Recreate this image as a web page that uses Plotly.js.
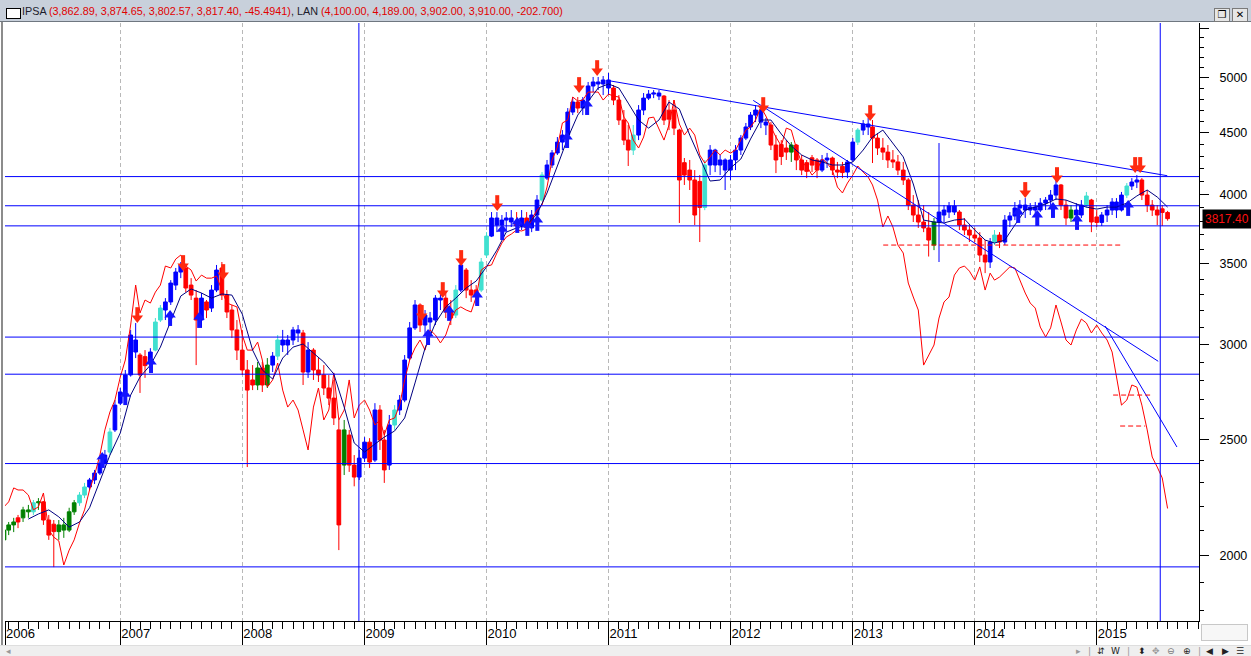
<!DOCTYPE html>
<html><head><meta charset="utf-8">
<script src="https://cdn.plot.ly/plotly-3.0.1.min.js"></script>
<style>
html,body{margin:0;padding:0;background:#fff;overflow:hidden;}
#wrap{position:relative;width:1251px;height:656px;overflow:hidden;}
#chart{position:absolute;left:0;top:0;width:1251px;height:656px;}
#hdr{position:absolute;left:0;top:0;width:1251px;height:21px;background:#c8d0db;border-bottom:1px solid #6f7780;font-family:'Liberation Sans',Arial,sans-serif;font-size:10.8px;line-height:22px;white-space:nowrap;z-index:5;}
#hdr .box{position:absolute;left:6px;top:8px;width:13px;height:9px;background:#fff;border:1px solid #000;}
#hdr .txt{position:absolute;left:22px;top:0;}
#hdr .nm{color:#1c1c2c;}
#hdr .vl{color:#e00000;}
.btn{position:absolute;top:8px;width:14px;height:12px;background:#e6e6e6;border:1px solid #7a7a7a;font:bold 10px 'DejaVu Sans',sans-serif;line-height:12px;text-align:center;color:#000;}
#frameL{position:absolute;left:1px;top:22px;width:2px;height:623px;background:#8c8c8c;z-index:5;}
#bot{position:absolute;left:0;top:645px;width:1251px;height:11px;background:#efefef;border-top:1px solid #dedede;z-index:5;font-family:'DejaVu Sans',sans-serif;font-size:9px;color:#222;}
#bot span{position:absolute;top:0px;line-height:11px;}
#rbox{position:absolute;left:1201px;top:624px;width:45px;height:15px;border:1px solid #c8c8c8;background:#f7f7f7;z-index:5;}
</style></head>
<body>
<div id="wrap">
<div id="chart"></div>
<div id="hdr"><div class="box"></div><div class="txt"><span class="nm">IPSA </span><span class="vl">(3,862.89, 3,874.65, 3,802.57, 3,817.40, -45.4941)</span><span class="nm">, LAN </span><span class="vl">(4,100.00, 4,189.00, 3,902.00, 3,910.00, -202.700)</span></div>
<div class="btn" style="left:1214px;">&#10064;</div><div class="btn" style="left:1232px;">&#10005;</div></div>
<div id="frameL"></div>
<div id="rbox"></div>
<div id="bot"><span style="left:6px;color:#999">&#9666;</span>
<span style="left:1076px;color:#999">&#9656;</span><span style="left:1088px;color:#999">|</span><span style="left:1097px">&#8693;</span><span style="left:1111px">W</span><span style="left:1127px;color:#999">|</span><span style="left:1138px">&#11021;</span><span style="left:1152px;color:#999">&#10021;</span><span style="left:1167px;color:#777">&#8854;</span><span style="left:1183px">&#8853;</span><span style="left:1198px;color:#999">|</span><span style="left:1206px">&#9664;</span><span style="left:1222px">&#9654;</span><span style="left:1236px">&#9776;</span></div>
</div>
<script>
// ---------- DATA ----------
const dates = [
'2006-01-18','2006-02-01','2006-02-16','2006-03-01','2006-03-16','2006-04-01','2006-04-16','2006-05-01','2006-05-16','2006-06-01','2006-06-16','2006-07-01','2006-07-16','2006-08-01','2006-08-16','2006-09-01','2006-09-16','2006-10-01','2006-10-16','2006-11-01','2006-11-16','2006-12-01','2006-12-16',
'2007-01-01','2007-01-16','2007-02-01','2007-02-16','2007-03-01','2007-03-16','2007-04-01','2007-04-16','2007-05-01','2007-05-16','2007-06-01','2007-06-16','2007-07-01','2007-07-16','2007-08-01','2007-08-16','2007-09-01','2007-09-16','2007-10-01','2007-10-16','2007-11-01','2007-11-16','2007-12-01','2007-12-16',
'2008-01-01','2008-01-16','2008-02-01','2008-02-16','2008-03-01','2008-03-16','2008-04-01','2008-04-16','2008-05-01','2008-05-16','2008-06-01','2008-06-16','2008-07-01','2008-07-16','2008-08-01','2008-08-16','2008-09-01','2008-09-16','2008-10-01','2008-10-16','2008-11-01','2008-11-16','2008-12-01','2008-12-16',
'2009-01-01','2009-01-16','2009-02-01','2009-02-16','2009-03-01','2009-03-16','2009-04-01','2009-04-16','2009-05-01','2009-05-16','2009-06-01','2009-06-16','2009-07-01','2009-07-16','2009-08-01','2009-08-16','2009-09-01','2009-09-16','2009-10-01','2009-10-16','2009-11-01','2009-11-16','2009-12-01','2009-12-16',
'2010-01-01','2010-01-16','2010-02-01','2010-02-16','2010-03-01','2010-03-16','2010-04-01','2010-04-16','2010-05-01','2010-05-16','2010-06-01','2010-06-16','2010-07-01','2010-07-16','2010-08-01','2010-08-16','2010-09-01','2010-09-16','2010-10-01','2010-10-16','2010-11-01','2010-11-16','2010-12-01','2010-12-16',
'2011-01-01','2011-01-16','2011-02-01','2011-02-16','2011-03-01','2011-03-16','2011-04-01','2011-04-16','2011-05-01','2011-05-16','2011-06-01','2011-06-16','2011-07-01','2011-07-16','2011-08-01','2011-08-16','2011-09-01','2011-09-16','2011-10-01','2011-10-16','2011-11-01','2011-11-16','2011-12-01','2011-12-16',
'2012-01-01','2012-01-16','2012-02-01','2012-02-16','2012-03-01','2012-03-16','2012-04-01','2012-04-16','2012-05-01','2012-05-16','2012-06-01','2012-06-16','2012-07-01','2012-07-16','2012-08-01','2012-08-16','2012-09-01','2012-09-16','2012-10-01','2012-10-16','2012-11-01','2012-11-16','2012-12-01','2012-12-16',
'2013-01-01','2013-01-16','2013-02-01','2013-02-16','2013-03-01','2013-03-16','2013-04-01','2013-04-16','2013-05-01','2013-05-16','2013-06-01','2013-06-16','2013-07-01','2013-07-16','2013-08-01','2013-08-16','2013-09-01','2013-09-16','2013-10-01','2013-10-16','2013-11-01','2013-11-16','2013-12-01','2013-12-16',
'2014-01-01','2014-01-16','2014-02-01','2014-02-16','2014-03-01','2014-03-16','2014-04-01','2014-04-16','2014-05-01','2014-05-16','2014-06-01','2014-06-16','2014-07-01','2014-07-16','2014-08-01','2014-08-16','2014-09-01','2014-09-16','2014-10-01','2014-10-16','2014-11-01','2014-11-16','2014-12-01','2014-12-16',
'2015-01-01','2015-01-16','2015-02-01','2015-02-16','2015-03-01','2015-03-16','2015-04-01','2015-04-16','2015-05-01','2015-05-16','2015-06-01','2015-06-16','2015-07-01','2015-07-16','2015-08-01'
];
const ipsaOpen = [
2062,2101,2122,2151,2151,2184,2176,2214,2218,2142,2125,2095,2122,2101,2176,2214,2247,2282,2313,2344,2389,2440,2546,
2680,2738,2829,3025,2939,2930,2900,2967,3143,3204,3254,3361,3446,3473,3361,3278,3143,3254,3216,3329,3473,3297,3204,3084,
2967,2856,2802,2775,2867,2775,2883,2933,3025,2996,3025,3084,3066,2845,2967,2856,2829,2759,2706,2546,2380,2521,2380,2326,
2412,2487,2403,2645,2497,2380,2570,2645,2696,2922,3096,3235,3113,3155,3143,3278,3278,3192,3173,3329,3459,3329,3330,3329,
3560,3692,3822,3771,3807,3822,3793,3764,3822,3750,3844,3956,4126,4231,4330,4421,4481,4683,4774,4719,4792,4923,4961,4942,
4980,4904,4792,4612,4438,4354,4481,4701,4810,4847,4857,4829,4700,4701,4524,4250,4190,4111,4100,3900,4231,4354,4231,4272,
4190,4272,4354,4455,4551,4656,4701,4594,4568,4396,4400,4371,4337,4396,4272,4250,4290,4272,4190,4272,4288,4190,4220,4174,
4272,4421,4524,4577,4551,4455,4371,4337,4272,4256,4190,4111,3918,3844,3793,3750,3629,3793,3844,3866,3911,3866,3771,3735,
3699,3678,3560,3513,3650,3699,3650,3807,3837,3896,3918,3881,3903,3881,3933,3956,3994,4072,3918,3822,3881,3844,3918,3956,
3830,3790,3844,3881,3941,3881,3994,4064,4095,4111,3994,3918,3881,3890,3862.89
];
const ipsaHigh = [
2114,2134,2151,2163,2197,2205,2226,2234,2222,2163,2142,2142,2151,2193,2226,2260,2300,2322,2358,2403,2450,2556,2696,
2759,2856,3084,3125,2950,2967,2978,3155,3235,3278,3393,3473,3513,3493,3406,3329,3310,3266,3361,3493,3513,3329,3235,3143,
3084,2911,2883,2900,2900,2922,2956,3054,3084,3054,3102,3113,3084,3013,2978,2922,2883,2829,2802,2595,2595,2546,2426,2450,
2511,2506,2680,2670,2546,2620,2670,2722,2939,3131,3266,3245,3204,3192,3297,3316,3316,3266,3361,3540,3473,3393,3361,3540,
3720,3866,3866,3844,3866,3881,3866,3881,3866,3881,3994,4174,4272,4354,4464,4524,4719,4820,4820,4820,4961,5009,5009,5018,
5047,4932,4838,4701,4568,4568,4746,4857,4885,4885,4885,4838,4792,4792,4535,4288,4272,4190,4150,4272,4396,4365,4313,4285,
4313,4396,4481,4586,4683,4746,4712,4630,4594,4481,4438,4438,4421,4405,4313,4272,4313,4288,4313,4330,4300,4256,4256,4272,
4455,4541,4612,4630,4612,4498,4455,4396,4354,4313,4256,4126,3994,3956,3918,3866,3822,4413,3918,3941,3956,3881,3822,3771,
3750,3720,3664,3678,3735,3720,3844,3866,3941,3956,3971,3933,3941,3971,3979,4033,4111,4080,3956,3918,3933,3956,4018,3965,
3881,3866,3918,3971,3971,4018,4087,4126,4150,4126,4033,3956,3918,3918,3874.65
];
const ipsaLow = [
2034,2081,2093,2109,2134,2151,2163,2184,2122,2062,1957,2062,2070,2093,2163,2201,2234,2269,2295,2335,2367,2426,2536,
2670,2730,2820,2922,2733,2813,2867,2960,3131,3143,3235,3329,3406,3316,3266,2883,3096,3155,3192,3316,3266,3155,3037,2911,
2829,2371,2748,2748,2738,2759,2845,2911,2956,2939,2996,3013,2775,2813,2802,2791,2722,2670,2570,2022,2335,2349,2285,2313,
2394,2367,2394,2450,2300,2358,2546,2620,2685,2911,3084,3072,3054,3054,3113,3204,3155,3113,3155,3316,3278,3254,3235,3316,
3540,3685,3720,3720,3735,3757,3720,3735,3699,3720,3822,3945,4111,4207,4313,4354,4470,4656,4674,4656,4780,4866,4885,4838,
4838,4746,4568,4396,4223,4313,4438,4656,4792,4810,4792,4568,4524,4481,3786,4072,4033,3771,3650,3880,4150,4174,4150,4033,
4111,4190,4313,4438,4524,4594,4541,4481,4354,4166,4231,4272,4256,4190,4150,4126,4174,4126,4174,4207,4150,4126,4126,4126,
4256,4396,4481,4481,4247,4313,4272,4207,4207,4150,4072,3881,3793,3750,3720,3550,3594,3513,3793,3822,3844,3735,3699,3650,
3650,3513,3439,3473,3629,3608,3629,3757,3807,3844,3822,3844,3844,3866,3881,3918,3956,3881,3771,3793,3793,3822,3896,3720,
3757,3764,3793,3844,3822,3870,3971,4033,4048,3956,3866,3837,3771,3764,3802.57
];
const ipsaClose = [
2101,2122,2134,2134,2184,2176,2214,2218,2142,2081,2095,2122,2101,2176,2214,2247,2282,2313,2344,2389,2426,2536,2670,
2738,2829,3054,2956,2829,2880,2956,3131,3216,3254,3374,3446,3493,3342,3297,3143,3278,3204,3329,3459,3297,3192,3084,2967,
2856,2748,2775,2867,2775,2883,2933,3025,2996,3025,3084,3066,2845,2967,2856,2829,2759,2706,2605,2122,2546,2380,2326,2412,
2487,2394,2645,2497,2358,2570,2645,2696,2911,3096,3235,3113,3173,3131,3278,3266,3192,3155,3329,3493,3329,3297,3290,3513,
3692,3822,3771,3807,3822,3793,3764,3822,3750,3844,3956,4150,4231,4330,4421,4481,4683,4774,4719,4792,4923,4961,4942,4980,
4904,4792,4612,4438,4354,4481,4701,4810,4847,4857,4829,4612,4620,4541,4111,4150,4111,3844,3900,4231,4354,4231,4272,4190,
4272,4354,4455,4551,4656,4701,4594,4568,4396,4272,4300,4337,4396,4272,4190,4180,4230,4190,4272,4288,4190,4174,4170,4256,
4421,4524,4577,4551,4455,4371,4337,4272,4256,4190,4111,3918,3844,3793,3750,3664,3793,3866,3881,3911,3866,3771,3735,3699,
3678,3560,3513,3650,3699,3650,3807,3837,3896,3918,3881,3903,3881,3933,3956,3994,4072,3918,3822,3881,3844,3918,3987,3793,
3790,3844,3881,3941,3881,3994,4064,4095,4111,3994,3918,3881,3844,3863,3817.40
];
// trend state of each bar: b = blue, r = red, g = green, c = cyan
const barTrend = ('gggrggcgrrrggggccbbbbcb' + 'bbbbrrbccbbbbrrrbrbbrrrr' + 'rrrgrgbcbbbbrbrrrrrrgrrb' +
  'brbrrbcbbbbrbbbbrrcbrrrc' + 'cbbbbbrbrbbcbbbbbbrbbbbb' + 'brrrrcbbbbbrrrrrrrrcbbbb' +
  'bbbbbbbbrrrrgrrrrrbbrrrb' + 'bcbbrrrrrrrrrrrrgbbbbrrr' + 'rrrbcrbbbbbbbbbbbrrgbbcr' + 'rbbbbbcbbrrrrrr').split('');
// LAN overlay, on the price scale of the chart
const lanOverlay = [
2197,2218,2278,2269,2269,2247,2184,2197,2256,2101,2073,2058,1965,2022,2062,2130,2184,2269,2335,2426,2546,2635,2696,
2818,2911,3113,3361,3186,3266,3247,3316,3361,3486,3473,3533,3560,3486,3459,3387,3426,3406,3406,3419,3329,3247,3235,3223,
3054,2967,2967,3013,2911,2764,2802,2894,2748,2660,2696,2645,2546,2450,2660,2759,2595,2645,2840,2595,2645,2802,2605,2670,
2696,2645,2570,2595,2521,2595,2605,2670,2802,2911,2979,3025,2967,3084,3054,3008,3054,3143,3204,3223,3204,3192,3285,3459,
3486,3493,3574,3643,3685,3706,3735,3728,3742,3807,3881,3918,4056,4272,4379,4586,4612,4820,4783,4792,4866,4866,4866,4792,
4847,4829,4820,4638,4586,4438,4371,4464,4630,4638,4541,4438,4568,4792,4577,4481,4541,4481,4313,4247,4297,4354,4313,4354,
4329,4354,4438,4524,4551,4612,4728,4647,4551,4464,4388,4541,4524,4371,4247,4223,4150,4190,4280,4247,4190,4056,4010,4087,
4150,4223,4174,4134,4072,3956,3757,3837,3757,3629,3574,3374,3285,3204,2883,2939,2996,3155,3254,3285,3426,3473,3486,3452,
3393,3480,3329,3439,3393,3413,3446,3480,3473,3393,3310,3247,3216,3101,3043,3096,3235,3131,3025,2996,3084,3149,3125,3066,
3113,3066,3025,2956,2818,2670,2696,2775,2764,2670,2546,2417,2371,2322,2190
];
const maDates = [
'2006-04-01','2006-05-01','2006-06-01','2006-07-01','2006-08-01','2006-09-01','2006-10-01','2006-11-01','2006-12-01',
'2007-01-01','2007-02-01','2007-03-01','2007-04-01','2007-05-01','2007-06-01','2007-07-01','2007-08-01','2007-09-01','2007-10-01','2007-11-01','2007-12-01',
'2008-01-01','2008-02-01','2008-03-01','2008-04-01','2008-05-01','2008-06-01','2008-07-01','2008-08-01','2008-09-01','2008-10-01','2008-11-01','2008-12-01',
'2009-01-01','2009-02-01','2009-03-01','2009-04-01','2009-05-01','2009-06-01','2009-07-01','2009-08-01','2009-09-01','2009-10-01','2009-11-01','2009-12-01',
'2010-01-01','2010-02-01','2010-03-01','2010-04-01','2010-05-01','2010-06-01','2010-07-01','2010-08-01','2010-09-01','2010-10-01','2010-11-01','2010-12-01',
'2011-01-01','2011-02-01','2011-03-01','2011-04-01','2011-05-01','2011-06-01','2011-07-01','2011-08-01','2011-09-01','2011-10-01','2011-11-01','2011-12-01',
'2012-01-01','2012-02-01','2012-03-01','2012-04-01','2012-05-01','2012-06-01','2012-07-01','2012-08-01','2012-09-01','2012-10-01','2012-11-01','2012-12-01',
'2013-01-01','2013-02-01','2013-03-01','2013-04-01','2013-05-01','2013-06-01','2013-07-01','2013-08-01','2013-09-01','2013-10-01','2013-11-01','2013-12-01',
'2014-01-01','2014-02-01','2014-03-01','2014-04-01','2014-05-01','2014-06-01','2014-07-01','2014-08-01','2014-09-01','2014-10-01','2014-11-01','2014-12-01',
'2015-01-01','2015-02-01','2015-03-01','2015-04-01','2015-05-01','2015-06-01','2015-07-01','2015-08-01'
];
const maValues = [
2146,2167,2184,2155,2113,2134,2193,2309,2426,
2531,2722,2818,2883,2984,3131,3291,3336,3310,3278,3304,3297,
3179,2967,2856,2807,2922,2984,3002,2950,2900,2834,2660,2483,
2440,2478,2511,2541,2605,2786,2978,3125,3223,3278,3342,3387,
3480,3594,3720,3750,3771,3851,4010,4223,4455,4656,4783,4904,
4942,4904,4764,4612,4541,4612,4774,4710,4481,4288,4103,4111,
4207,4280,4447,4612,4612,4490,4388,4313,4272,4256,4231,4231,
4256,4354,4464,4524,4413,4297,4080,3807,3793,3786,3807,3815,
3735,3664,3643,3664,3771,3881,3903,3926,3964,3956,3926,3903,
3888,3903,3903,3933,3987,4033,3979,3903
];
const levelValues = [4138, 3913, 3765, 3042, 2833, 2387, 1958];
const verticalDates = ['2008-12-15', '2015-07-10'];
const trendDates  = [['2010-12-28','2015-07-31'], ['2012-03-09','2015-07-04'], ['2015-01-26','2015-08-29']];
const trendValues = [[4976, 4145], [4789, 2904], [3107, 2464]];
const dashDates  = [['2013-04-02','2015-03-21'], ['2015-02-19','2015-06-10'], ['2015-03-12','2015-05-26']];
const dashValues = [3629, 2722, 2565];
const sellDates = ['2007-02-21','2007-07-08','2007-11-05','2009-06-21','2009-08-23','2009-10-17','2010-02-02','2010-10-05','2010-11-28','2012-04-08','2013-02-22','2014-06-01','2014-09-04','2015-04-26','2015-05-11'];
const sellValues = [3173,3506,3446,3186,3329,3540,3933,4932,5095,4746,4674,4033,4150,4231,4231];
const buyDates = ['2006-11-08','2007-01-16','2007-04-03','2007-05-30','2007-08-25','2009-07-10','2009-09-11','2009-12-04','2010-02-17','2010-04-03','2010-05-03','2010-06-02','2010-08-30','2010-10-29','2014-05-11','2014-07-07','2014-08-23','2014-11-03','2015-04-05'];
const buyValues = [2403,2711,2883,3155,3143,3042,3186,3278,3720,3771,3750,3786,4438,4728,3844,3822,3881,3793,3896];
const xRange = ['2006-01-21', '2015-11-03'];
const yRange = [1765, 5555];
const yearTickDates  = ['2006-01-21','2007-01-01','2008-01-01','2009-01-01','2010-01-01','2011-01-01','2012-01-01','2013-01-01','2014-01-01','2015-01-01'];
const yearTickLabels = ['2006','2007','2008','2009','2010','2011','2012','2013','2014','2015'];
const yTickValues = [2000,2500,3000,3500,4000,4500,5000,5500];
const yTickLabels = ['2000','2500','3000','3500','4000','4500','5000',''];
const yMinorValues = [1800,1900,2100,2200,2300,2400,2600,2700,2800,2900,3100,3200,3300,3400,3600,3700,3800,3900,4100,4200,4300,4400,4600,4700,4800,4900,5100,5200,5300,5400];

// ---------- TRACES ----------
const colorMap = {b:'#0000ff', r:'#ff0000', g:'#008000', c:'#40e0d0'};
const pxStep = Math.exp(3 / 521.5);   // ~3 px on this log scale, used to split arrow head / shaft
const traces = [];
traces.push({type:'scatter', mode:'lines', x:dates, y:lanOverlay, line:{color:'#ff0000', width:1}, hoverinfo:'skip', showlegend:false});
traces.push({type:'scatter', mode:'lines', x:maDates, y:maValues, line:{color:'#000080', width:1}, hoverinfo:'skip', showlegend:false});
['g','c','r','b'].forEach(k => {
  const idx = [];
  barTrend.forEach((t, i) => { if (t === k) idx.push(i); });
  traces.push({
    type:'candlestick', x:idx.map(i => dates[i]),
    open:idx.map(i => ipsaOpen[i]), high:idx.map(i => ipsaHigh[i]),
    low:idx.map(i => ipsaLow[i]), close:idx.map(i => ipsaClose[i]),
    increasing:{line:{color:colorMap[k], width:1}, fillcolor:colorMap[k]},
    decreasing:{line:{color:colorMap[k], width:1}, fillcolor:colorMap[k]},
    whiskerwidth:0, hoverinfo:'skip', showlegend:false
  });
});
levelValues.forEach(v => traces.push({type:'scatter', mode:'lines', x:xRange, y:[v, v], line:{color:'#0000ff', width:1}, hoverinfo:'skip', showlegend:false}));
verticalDates.forEach(d => traces.push({type:'scatter', mode:'lines', x:[d, d], y:yRange, line:{color:'#0000ff', width:1}, hoverinfo:'skip', showlegend:false}));
trendDates.forEach((d, i) => traces.push({type:'scatter', mode:'lines', x:d, y:trendValues[i], line:{color:'#0000ff', width:1}, hoverinfo:'skip', showlegend:false}));
dashDates.forEach((d, i) => traces.push({type:'scatter', mode:'lines', x:d, y:[dashValues[i], dashValues[i]], line:{color:'#ff0000', width:1, dash:'5px,3px'}, hoverinfo:'skip', showlegend:false}));
// sell arrows (down): shaft above, head below
traces.push({type:'scatter', mode:'markers', x:sellDates, y:sellValues.map(v => v * pxStep), marker:{symbol:'line-ns', size:7, line:{width:4, color:'#ff2a10'}}, hoverinfo:'skip', showlegend:false});
traces.push({type:'scatter', mode:'markers', x:sellDates, y:sellValues.map(v => v / pxStep), marker:{symbol:'triangle-down', size:10, color:'#ff2a10', line:{width:0}}, hoverinfo:'skip', showlegend:false});
// buy arrows (up): head above, shaft below
traces.push({type:'scatter', mode:'markers', x:buyDates, y:buyValues.map(v => v / pxStep), marker:{symbol:'line-ns', size:7, line:{width:4, color:'#1414ff'}}, hoverinfo:'skip', showlegend:false});
traces.push({type:'scatter', mode:'markers', x:buyDates, y:buyValues.map(v => v * pxStep), marker:{symbol:'triangle-up', size:10, color:'#1414ff', line:{width:0}}, hoverinfo:'skip', showlegend:false});
traces.push({type:'scatter', mode:'markers', xaxis:'x2', x:[xRange[0]], y:[yTickValues[0]], marker:{opacity:0}, hoverinfo:'skip', showlegend:false});

const lastClose = ipsaClose[ipsaClose.length - 1];
const layout = {
  width:1251, height:656,
  margin:{l:5, r:52, t:23, b:35, pad:0},
  paper_bgcolor:'#ffffff', plot_bgcolor:'#ffffff',
  font:{family:'Liberation Sans, Arial, sans-serif', size:13, color:'#000'},
  showlegend:false,
  boxmode:'overlay', boxgap:0.15, boxgroupgap:0,
  xaxis:{
    type:'date', range:xRange, rangeslider:{visible:false},
    tickmode:'array', tickvals:yearTickDates, ticktext:yearTickLabels,
    ticks:'outside', ticklen:7, tickcolor:'#000', tickwidth:1,
    ticklabelposition:'outside right',
    tickfont:{family:'Liberation Sans, Arial, sans-serif', size:13, color:'#000'},
    showline:true, linecolor:'#000', linewidth:1,
    showgrid:true, gridcolor:'#b8b8b8', griddash:'4px,3px', gridwidth:1,
    zeroline:false, fixedrange:true,
    minor:{dtick:'M1', tick0:'2006-01-01', ticks:'outside', ticklen:7, tickcolor:'#000', tickwidth:1, showgrid:false}
  },
  xaxis2:{
    type:'date', range:xRange, overlaying:'x', anchor:'y', side:'bottom',
    tickmode:'array', tickvals:yearTickDates, ticks:'outside', ticklen:24, tickcolor:'#000', tickwidth:1,
    showticklabels:false, showgrid:false, showline:false, zeroline:false, fixedrange:true
  },
  yaxis:{
    type:'log', side:'right', range:[Math.log10(yRange[0]), Math.log10(yRange[1])],
    tickmode:'array', tickvals:yTickValues, ticktext:yTickLabels,
    ticks:'outside', ticklen:9, tickcolor:'#000', tickwidth:1, ticklabelstandoff:8,
    tickfont:{family:'Liberation Sans, Arial, sans-serif', size:12.5, color:'#000'},
    showline:true, linecolor:'#000', linewidth:1, showgrid:false, zeroline:false, fixedrange:true,
    minor:{tickmode:'array', tickvals:yMinorValues, ticks:'outside', ticklen:4, tickcolor:'#000', tickwidth:1, showgrid:false}
  },
  annotations:[{
    xref:'paper', x:1, xanchor:'left', xshift:3, yref:'y', y:Math.log10(lastClose), yanchor:'middle',
    text:lastClose.toFixed(2), showarrow:false, bgcolor:'#000000', borderpad:2,
    font:{family:'Liberation Sans, Arial, sans-serif', size:12, color:'#ff1010'}
  }]
};
Plotly.newPlot('chart', traces, layout, {staticPlot:true, displayModeBar:false});
</script>
</body></html>
